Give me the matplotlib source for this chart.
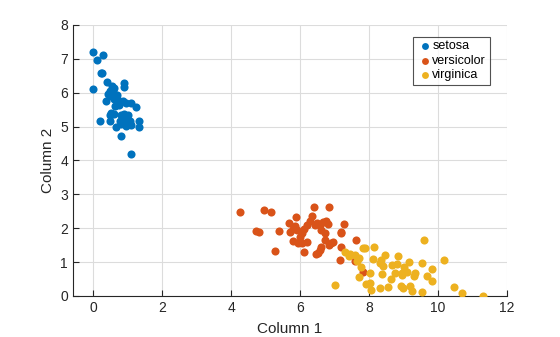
import numpy as np
import matplotlib
matplotlib.use("Agg")
import matplotlib.pyplot as plt

# =========================================================
# DATA
# =========================================================

groups = ["setosa", "versicolor", "virginica"]
colors = ["#0072BD", "#D95319", "#EDB120"]

setosa_x = [-0.02, 0.27, 0.10, 0.22, 0.25, -0.02, 0.40, 0.90, 0.88, 0.53,
            0.61, 0.47, 0.42, 0.56, 0.63, 0.51, 0.66, 0.59, 0.71, 0.37,
            0.85, 0.95, 1.08, 1.24, 0.73, 0.63, 0.51, 0.61, 0.47, 0.80,
            0.90, 1.00, 0.85, 0.95, 0.76, 1.05, 0.20, 0.47, 0.80, 0.95,
            1.08, 1.31, 1.31, 0.66, 0.80, 1.10, 0.58, 0.68, 0.88, 0.55]
setosa_y = [7.19, 7.11, 6.95, 6.59, 6.59, 6.10, 6.31, 6.28, 6.16, 6.19,
            6.14, 6.04, 5.96, 5.99, 5.94, 5.89, 5.86, 5.82, 5.79, 5.76,
            5.76, 5.69, 5.69, 5.57, 5.64, 5.60, 5.40, 5.37, 5.33, 5.33,
            5.37, 5.35, 5.25, 5.20, 5.17, 5.17, 5.17, 5.15, 5.07, 5.03,
            5.05, 5.17, 4.98, 4.98, 4.71, 4.18, 6.02, 5.92, 5.22, 5.38]

versicolor_x = [4.26, 4.95, 5.14, 4.73, 4.80, 5.39, 5.28, 5.68, 5.87, 5.84,
                5.78, 5.72, 5.90, 5.78, 5.94, 6.06, 6.11, 6.21, 6.00, 6.05,
                6.12, 6.20, 6.28, 6.35, 6.40, 6.48, 6.42, 6.83, 6.74, 6.57,
                6.66, 6.80, 6.73, 6.72, 6.62, 6.57, 6.51, 6.47, 6.96, 6.90,
                6.85, 7.20, 7.28, 7.18, 7.15, 7.63, 7.59, 7.83, 7.20, 6.62]
versicolor_y = [2.49, 2.54, 2.49, 1.93, 1.90, 1.93, 1.34, 2.14, 2.34, 2.07,
                1.98, 1.88, 1.95, 1.62, 1.55, 1.57, 1.31, 1.60, 1.75, 1.85,
                1.98, 2.10, 2.22, 2.35, 2.62, 2.16, 2.10, 2.62, 2.20, 2.08,
                2.18, 2.12, 1.85, 1.65, 1.45, 1.36, 1.28, 1.24, 1.60, 1.55,
                1.50, 1.85, 2.12, 1.88, 1.06, 1.64, 1.04, 0.72, 1.44, 1.95]

virginica_x = [7.00, 7.30, 7.46, 7.42, 7.71, 7.65, 7.78, 7.71, 7.83, 8.15,
               8.12, 8.02, 7.91, 8.02, 8.06, 8.31, 8.56, 8.63, 8.38, 8.33,
               8.41, 8.36, 8.47, 8.75, 8.66, 8.80, 8.85, 9.01, 8.97, 9.09,
               8.92, 9.00, 9.17, 9.19, 9.25, 9.33, 9.30, 9.53, 9.55, 9.67,
               9.83, 9.83, 9.60, 10.18, 10.47, 10.69, 11.32, 7.59, 7.88, 8.96]
virginica_y = [0.32, 1.29, 1.23, 1.18, 1.11, 1.03, 0.86, 0.55, 1.41, 1.44,
               1.08, 0.67, 0.35, 0.39, 0.18, 0.23, 0.26, 0.49, 0.65, 0.96,
               0.88, 1.05, 1.21, 0.67, 0.91, 0.93, 1.18, 0.86, 0.69, 0.72,
               0.29, 0.23, 1.01, 0.29, 0.15, 0.69, 0.59, 0.10, 0.96, 0.59,
               0.79, 0.43, 1.64, 1.05, 0.26, 0.08, 0.00, 1.21, 1.41, 0.62]

# =========================================================
# PLOT
# =========================================================

plt.rcParams["font.family"] = ["Liberation Sans", "DejaVu Sans"]

fig = plt.figure(figsize=(5.6, 3.37), dpi=100)
ax = fig.add_axes([0.130, 0.122, 0.775, 0.804])

series = [(setosa_x, setosa_y), (versicolor_x, versicolor_y),
          (virginica_x, virginica_y)]
for name, col, (xs, ys) in zip(groups, colors, series):
    ax.scatter(xs, ys, s=34, color=col, label=name, linewidths=0, zorder=3)

ax.set_xlim(-0.6, 12)
ax.set_ylim(0, 8)
ax.set_xticks(np.arange(0, 13, 2))
ax.set_yticks(np.arange(0, 9, 1))
ax.grid(True, color="#dcdcdc", linewidth=0.8, zorder=0)
ax.set_axisbelow(True)

for side in ["top", "right"]:
    ax.spines[side].set_visible(False)
for side in ["left", "bottom"]:
    ax.spines[side].set_color("#262626")
    ax.spines[side].set_linewidth(0.8)
ax.tick_params(direction="in", length=4, width=0.8, colors="#262626",
               labelsize=10)

ax.set_xlabel("Column 1", fontsize=11, color="#262626", labelpad=5)
ax.set_ylabel("Column 2", fontsize=11, color="#262626", labelpad=4)

leg = ax.legend(loc="upper right", bbox_to_anchor=(0.975, 0.98),
                fontsize=9, frameon=True, fancybox=False,
                handletextpad=0.0, borderpad=0.3, labelspacing=0.2,
                handlelength=1.2, markerscale=0.85)
leg.get_frame().set_edgecolor("#262626")
leg.get_frame().set_linewidth(0.8)

fig.savefig("out.png", dpi=100)
